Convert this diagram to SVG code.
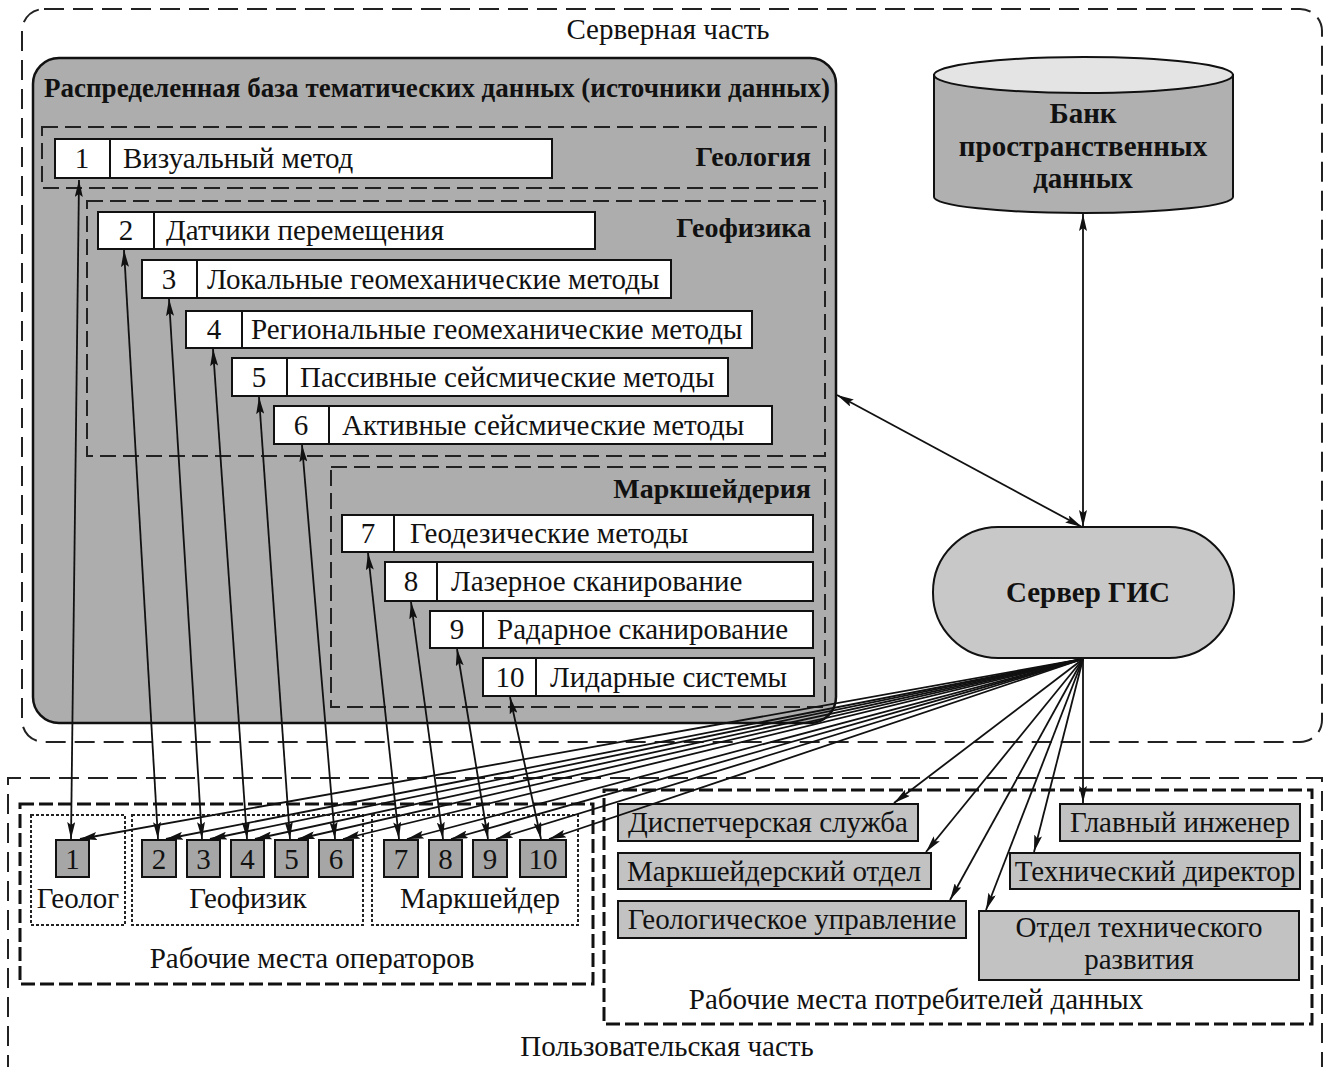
<svg xmlns="http://www.w3.org/2000/svg" width="1324" height="1067" viewBox="0 0 1324 1067">
<defs>
<style>
text{font-family:"Liberation Serif","Times New Roman",serif;fill:#111}
.t{font-size:29px}
.b{font-size:28px;font-weight:bold}
.bb{font-size:29px;font-weight:bold}
.c{text-anchor:middle}
.r{text-anchor:end}
.item{fill:#fff;stroke:#111;stroke-width:2}
.cell{fill:none;stroke:#111;stroke-width:2}
.dash1{fill:none;stroke:#222;stroke-width:2;stroke-dasharray:20 9}
.dash2{fill:none;stroke:#222;stroke-width:2;stroke-dasharray:16 7}
.dash3{fill:none;stroke:#111;stroke-width:3;stroke-dasharray:14 5}
.dot{fill:none;stroke:#222;stroke-width:2;stroke-dasharray:3 2}
.op{fill:#a6a6a6;stroke:#111;stroke-width:2}
.cons{fill:#c2c2c2;stroke:#111;stroke-width:2}
.ln{fill:none;stroke:#111;stroke-width:1.8}
.bi{marker-start:url(#ah);marker-end:url(#ah)}
.one{marker-end:url(#ah)}
</style>
<marker id="ah" viewBox="0 0 17 8" refX="17" refY="4" markerWidth="17" markerHeight="8" orient="auto-start-reverse" markerUnits="userSpaceOnUse"><path d="M0,0 L17,4 L0,8 L3,4 z" fill="#111"/></marker>
</defs>

<g id="server-part">
<rect class="dash1" x="22" y="9" width="1300" height="733" rx="22"/>
<text class="t c" x="668" y="39">Серверная часть</text>
</g>

<g id="user-part">
<path class="dash1" d="M8,1075 L8,778 L1322,778 L1322,1075"/>
<text class="t c" x="667" y="1056">Пользовательская часть</text>
</g>

<g id="db">
<rect x="33" y="58" width="803" height="665" rx="26" fill="#adadad" stroke="#111" stroke-width="2.5"/>
<text class="b" x="44" y="97" textLength="786" lengthAdjust="spacingAndGlyphs">Распределенная база тематических данных (источники данных)</text>
</g>

<g id="geology">
<rect class="dash2" x="42" y="127" width="783" height="61"/>
<text class="b r" x="811" y="166">Геология</text>
</g>
<g id="geophysics">
<rect class="dash2" x="87" y="201" width="738" height="255"/>
<text class="b r" x="811" y="237">Геофизика</text>
</g>
<g id="survey">
<rect class="dash2" x="331" y="467" width="494" height="240"/>
<text class="b r" x="811" y="498">Маркшейдерия</text>
</g>

<g id="item1"><rect class="item" x="55" y="139" width="497" height="39"/><line class="cell" x1="110" y1="139" x2="110" y2="178"/><text class="t c" x="82" y="168">1</text><text class="t" x="123" y="168">Визуальный метод</text></g>
<g id="item2"><rect class="item" x="98" y="212" width="497" height="37"/><line class="cell" x1="154" y1="212" x2="154" y2="249"/><text class="t c" x="126" y="240">2</text><text class="t" x="166" y="240">Датчики перемещения</text></g>
<g id="item3"><rect class="item" x="142" y="260" width="529" height="38"/><line class="cell" x1="197" y1="260" x2="197" y2="298"/><text class="t c" x="169" y="289">3</text><text class="t" x="207" y="289">Локальные геомеханические методы</text></g>
<g id="item4"><rect class="item" x="186" y="311" width="566" height="37"/><line class="cell" x1="242" y1="311" x2="242" y2="348"/><text class="t c" x="214" y="339">4</text><text class="t" x="251" y="339">Региональные геомеханические методы</text></g>
<g id="item5"><rect class="item" x="232" y="358" width="496" height="38"/><line class="cell" x1="287" y1="358" x2="287" y2="396"/><text class="t c" x="259" y="387">5</text><text class="t" x="300" y="387">Пассивные сейсмические методы</text></g>
<g id="item6"><rect class="item" x="274" y="406" width="498" height="38"/><line class="cell" x1="329" y1="406" x2="329" y2="444"/><text class="t c" x="301" y="435">6</text><text class="t" x="342" y="435">Активные сейсмические методы</text></g>
<g id="item7"><rect class="item" x="342" y="515" width="471" height="37"/><line class="cell" x1="394" y1="515" x2="394" y2="552"/><text class="t c" x="368" y="543">7</text><text class="t" x="410" y="543">Геодезические методы</text></g>
<g id="item8"><rect class="item" x="385" y="562" width="428" height="39"/><line class="cell" x1="437" y1="562" x2="437" y2="601"/><text class="t c" x="411" y="591">8</text><text class="t" x="451" y="591">Лазерное сканирование</text></g>
<g id="item9"><rect class="item" x="430" y="611" width="383" height="37"/><line class="cell" x1="483" y1="611" x2="483" y2="648"/><text class="t c" x="457" y="639">9</text><text class="t" x="497" y="639">Радарное сканирование</text></g>
<g id="item10"><rect class="item" x="483" y="658" width="331" height="38"/><line class="cell" x1="536" y1="658" x2="536" y2="696"/><text class="t c" x="510" y="687">10</text><text class="t" x="550" y="687">Лидарные системы</text></g>

<g id="bank">
<path d="M934,75 L934,197 A149.5,16 0 0 0 1233,197 L1233,75 Z" fill="#b0b0b0" stroke="#111" stroke-width="2"/>
<ellipse cx="1083.5" cy="75" rx="149.5" ry="18" fill="#e4e4e4" stroke="#111" stroke-width="2"/>
<text class="bb c" x="1083" y="123">Банк</text>
<text class="bb c" x="1083" y="156">пространственных</text>
<text class="bb c" x="1083" y="188">данных</text>
</g>

<g id="gis-server">
<rect x="933" y="527" width="301" height="131" rx="65" fill="#c8c8c8" stroke="#111" stroke-width="2"/>
<text class="bb c" x="1088" y="602">Сервер ГИС</text>
</g>

<g id="operators">
<rect class="dash3" x="20" y="804" width="573" height="180"/>
<text class="t c" x="312" y="968">Рабочие места операторов</text>
</g>
<g id="geolog"><rect class="dot" x="31" y="815" width="94" height="110"/><text class="t c" x="78" y="908">Геолог</text></g>
<g id="geofizik"><rect class="dot" x="132" y="815" width="231" height="110"/><text class="t c" x="248" y="908">Геофизик</text></g>
<g id="marksheider"><rect class="dot" x="372" y="815" width="206" height="110"/><text class="t c" x="480" y="908">Маркшейдер</text></g>

<g id="op1"><rect class="op" x="56" y="840" width="33" height="37"/><text class="t c" x="72.5" y="869">1</text></g>
<g id="op2"><rect class="op" x="142" y="840" width="34" height="37"/><text class="t c" x="159" y="869">2</text></g>
<g id="op3"><rect class="op" x="187" y="840" width="33" height="37"/><text class="t c" x="203.5" y="869">3</text></g>
<g id="op4"><rect class="op" x="231" y="840" width="33" height="37"/><text class="t c" x="247.5" y="869">4</text></g>
<g id="op5"><rect class="op" x="275" y="840" width="33" height="37"/><text class="t c" x="291.5" y="869">5</text></g>
<g id="op6"><rect class="op" x="319" y="840" width="34" height="37"/><text class="t c" x="336" y="869">6</text></g>
<g id="op7"><rect class="op" x="384" y="840" width="34" height="37"/><text class="t c" x="401" y="869">7</text></g>
<g id="op8"><rect class="op" x="429" y="840" width="33" height="37"/><text class="t c" x="445.5" y="869">8</text></g>
<g id="op9"><rect class="op" x="473" y="840" width="34" height="37"/><text class="t c" x="490" y="869">9</text></g>
<g id="op10"><rect class="op" x="520" y="840" width="46" height="37"/><text class="t c" x="543" y="869">10</text></g>

<g id="consumers">
<rect class="dash3" x="604" y="790" width="708" height="234"/>
<text class="t c" x="916" y="1009">Рабочие места потребителей данных</text>
</g>
<g id="c-dispatch"><rect class="cons" x="618" y="804" width="300" height="37"/><text class="t c" x="768" y="832">Диспетчерская служба</text></g>
<g id="c-survey"><rect class="cons" x="618" y="853" width="313" height="36"/><text class="t c" x="774" y="881">Маркшейдерский отдел</text></g>
<g id="c-geology"><rect class="cons" x="618" y="901" width="348" height="37"/><text class="t c" x="792" y="929">Геологическое управление</text></g>
<g id="c-chief"><rect class="cons" x="1060" y="804" width="240" height="37"/><text class="t c" x="1180" y="832">Главный инженер</text></g>
<g id="c-techdir"><rect class="cons" x="1010" y="853" width="290" height="36"/><text class="t c" x="1155" y="881">Технический директор</text></g>
<g id="c-techdev"><rect class="cons" x="979" y="911" width="320" height="69"/><text class="t c" x="1139" y="937">Отдел технического</text><text class="t c" x="1139" y="969">развития</text></g>

<g id="connectors">
<line class="ln bi" x1="79" y1="180" x2="71" y2="839"/>
<line class="ln bi" x1="124" y1="250" x2="158" y2="839"/>
<line class="ln bi" x1="169" y1="299" x2="202" y2="839"/>
<line class="ln bi" x1="213" y1="349" x2="247" y2="839"/>
<line class="ln bi" x1="259" y1="397" x2="290" y2="839"/>
<line class="ln bi" x1="302" y1="445" x2="335" y2="839"/>
<line class="ln bi" x1="368" y1="553" x2="399" y2="839"/>
<line class="ln bi" x1="411" y1="602" x2="443" y2="839"/>
<line class="ln bi" x1="457" y1="649" x2="488" y2="839"/>
<line class="ln bi" x1="510" y1="697" x2="541" y2="839"/>

<line class="ln bi" x1="1083" y1="214" x2="1083" y2="527"/>
<line class="ln bi" x1="837" y1="395" x2="1082" y2="527"/>

<line class="ln one" x1="1083" y1="659" x2="80" y2="839"/>
<line class="ln one" x1="1083" y1="659" x2="166" y2="839"/>
<line class="ln one" x1="1083" y1="659" x2="210" y2="839"/>
<line class="ln one" x1="1083" y1="659" x2="255" y2="839"/>
<line class="ln one" x1="1083" y1="659" x2="298" y2="839"/>
<line class="ln one" x1="1083" y1="659" x2="343" y2="839"/>
<line class="ln one" x1="1083" y1="659" x2="407" y2="839"/>
<line class="ln one" x1="1083" y1="659" x2="451" y2="839"/>
<line class="ln one" x1="1083" y1="659" x2="496" y2="839"/>
<line class="ln one" x1="1083" y1="659" x2="549" y2="839"/>

<line class="ln one" x1="1083" y1="659" x2="894" y2="803"/>
<line class="ln one" x1="1083" y1="659" x2="926" y2="852"/>
<line class="ln one" x1="1083" y1="659" x2="950" y2="900"/>
<line class="ln one" x1="1083" y1="659" x2="986" y2="910"/>
<line class="ln one" x1="1083" y1="659" x2="1034" y2="852"/>
<line class="ln one" x1="1083" y1="659" x2="1083" y2="803"/>
</g>
</svg>
